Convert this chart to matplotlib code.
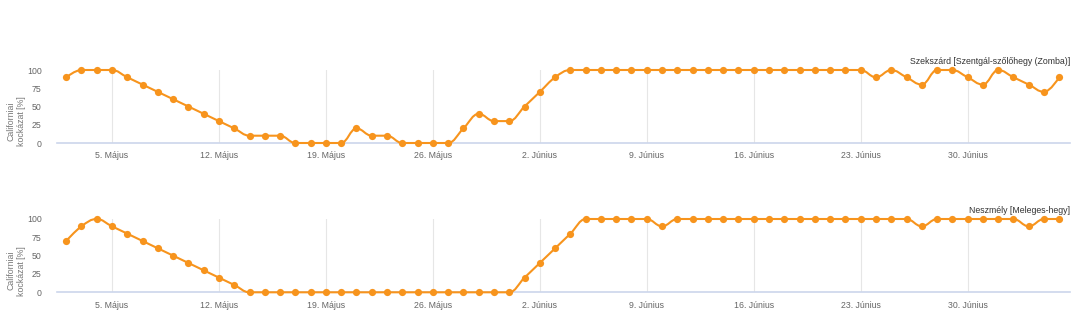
import numpy as np
import pandas as pd
import matplotlib
matplotlib.use('Agg')
import matplotlib.pyplot as plt
import matplotlib.dates as mdates
from matplotlib.path import Path
from matplotlib.patches import PathPatch

plt.rcParams['font.family'] = ['Liberation Sans', 'DejaVu Sans']

# Daily dates, 2 May - 6 July
dates = pd.date_range('2019-05-02', '2019-07-06', freq='D')

titles = ['Szekszárd [Szentgál-szőlőhegy (Zomba)]', 'Neszmély [Meleges-hegy]']

# May 2-31
szekszard_may = [90, 100, 100, 100, 90, 80, 70, 60, 50, 40, 30, 20, 10, 10, 10,
                 0, 0, 0, 0, 20, 10, 10, 0, 0, 0, 0, 20, 40, 30, 30]
# June 1 - July 6
szekszard_jun = [50, 70, 90, 100, 100, 100, 100, 100, 100, 100, 100, 100, 100,
                 100, 100, 100, 100, 100, 100, 100, 100, 100, 100, 90, 100, 90,
                 80, 100, 100, 90, 80, 100, 90, 80, 70, 90]
neszmely_may = [70, 90, 100, 90, 80, 70, 60, 50, 40, 30, 20, 10, 0, 0, 0,
                0, 0, 0, 0, 0, 0, 0, 0, 0, 0, 0, 0, 0, 0, 0]
neszmely_jun = [20, 40, 60, 80, 100, 100, 100, 100, 100, 90, 100, 100, 100,
                100, 100, 100, 100, 100, 100, 100, 100, 100, 100, 100, 100, 100,
                90, 100, 100, 100, 100, 100, 100, 90, 100, 100]

tick_dates = ['2019-05-05', '2019-05-12', '2019-05-19', '2019-05-26', '2019-06-02',
              '2019-06-09', '2019-06-16', '2019-06-23', '2019-06-30']
tick_labels = ['5. Május', '12. Május', '19. Május', '26. Május', '2. Június',
               '9. Június', '16. Június', '23. Június', '30. Június']

ylabel = 'Californiai\nkockázat [%]'

ORANGE = '#f7941d'
FS = 6.3


def spline_path(x, y, smoothing=1.5):
    # Highcharts-style spline through the points
    n = len(x)
    denom = smoothing + 1
    lc = [(x[i], y[i]) for i in range(n)]
    rc = [(x[i], y[i]) for i in range(n)]
    for i in range(1, n - 1):
        lx = (smoothing * x[i] + x[i - 1]) / denom
        ly = (smoothing * y[i] + y[i - 1]) / denom
        rx = (smoothing * x[i] + x[i + 1]) / denom
        ry = (smoothing * y[i] + y[i + 1]) / denom
        corr = (ry - ly) * (rx - x[i]) / (rx - lx) + y[i] - ry
        ly += corr
        ry += corr
        if ly > y[i - 1] and ly > y[i]:
            ly = max(y[i - 1], y[i]); ry = 2 * y[i] - ly
        elif ly < y[i - 1] and ly < y[i]:
            ly = min(y[i - 1], y[i]); ry = 2 * y[i] - ly
        if ry > y[i + 1] and ry > y[i]:
            ry = max(y[i + 1], y[i]); ly = 2 * y[i] - ry
        elif ry < y[i + 1] and ry < y[i]:
            ry = min(y[i + 1], y[i]); ly = 2 * y[i] - ry
        lc[i] = (lx, ly)
        rc[i] = (rx, ry)
    verts = [(x[0], y[0])]
    codes = [Path.MOVETO]
    for i in range(1, n):
        verts += [rc[i - 1], lc[i], (x[i], y[i])]
        codes += [Path.CURVE4] * 3
    return Path(verts, codes)


fig = plt.figure(figsize=(10.87, 3.28), dpi=100)
W, H = 1087, 328
ax_boxes = [(57, 70, 1070, 143), (57, 219, 1070, 292.3)]

series = [szekszard_may + szekszard_jun, neszmely_may + neszmely_jun]
xnum = mdates.date2num(dates)
for k, (vals, title) in enumerate(zip(series, titles)):
    x0, y0, x1, y1 = ax_boxes[k]
    ax = fig.add_axes([x0 / W, 1 - y1 / H, (x1 - x0) / W, (y1 - y0) / H])
    v = np.array(vals, dtype=float)
    xs = xnum[:len(v)]
    ax.add_patch(PathPatch(spline_path(xs, v), facecolor='none', edgecolor=ORANGE,
                           lw=1.5, clip_on=False, zorder=3))
    ax.plot(xs, v, 'o', color=ORANGE, ms=5.2, mew=0, clip_on=False, zorder=4)
    ax.set_xlim(xnum[0] - 0.6, xnum[-1] + 0.7)
    ax.set_ylim(0, 100)
    ax.set_yticks([0, 25, 50, 75, 100])
    ax.set_xticks(mdates.date2num(pd.to_datetime(tick_dates)))
    ax.set_xticklabels(tick_labels)
    ax.tick_params(length=0, labelsize=FS, colors='#666666')
    ax.tick_params(axis='x', pad=6)
    ax.tick_params(axis='y', pad=11)
    ax.grid(axis='x', color='#e6e6e6', lw=0.8)
    for s in ['top', 'right', 'left']:
        ax.spines[s].set_visible(False)
    ax.spines['bottom'].set_color('#ccd6eb')
    ax.spines['bottom'].set_linewidth(1.2)
    ax.set_title(title, loc='right', fontsize=FS, color='#333333', pad=4)
    fig.text(16 / W, 1 - (y0 + y1 + 30) / 2 / H, ylabel, rotation=90, ha='center',
             va='center', fontsize=FS, color='#777777', linespacing=1.15)

fig.savefig('out.png', dpi=100)
